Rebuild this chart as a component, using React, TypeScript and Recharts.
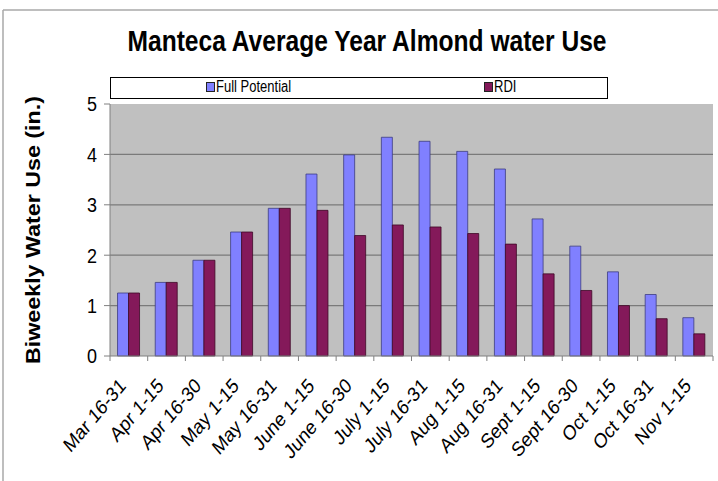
import React from 'react';
import { BarChart, Bar, XAxis, YAxis, CartesianGrid, Legend } from 'recharts';

const categories = [
  'Mar 16-31', 'Apr 1-15', 'Apr 16-30', 'May 1-15', 'May 16-31', 'June 1-15',
  'June 16-30', 'July 1-15', 'July 16-31', 'Aug 1-15', 'Aug 16-31', 'Sept 1-15',
  'Sept 16-30', 'Oct 1-15', 'Oct 16-31', 'Nov 1-15',
];
const fullPotential = [1.25, 1.46, 1.9, 2.46, 2.93, 3.61, 3.99, 4.34, 4.26, 4.06, 3.71, 2.72, 2.18, 1.67, 1.22, 0.76];
const rdi = [1.25, 1.46, 1.9, 2.46, 2.93, 2.89, 2.39, 2.6, 2.56, 2.43, 2.22, 1.63, 1.3, 1.0, 0.74, 0.44];
const yTicks = [0, 1, 2, 3, 4, 5];
const gridValues = [1, 2, 3, 4];

const TITLE = 'Manteca Average Year Almond water Use';
const Y_LABEL = 'Biweekly Water Use (in.)';
const FULL_NAME = 'Full Potential';
const RDI_NAME = 'RDI';

const data = categories.map((name, i) => ({
  name,
  full: fullPotential[i],
  rdi: rdi[i],
}));

const FONT = "Arial, 'Liberation Sans', Helvetica, sans-serif";
const FULL_FILL = '#8080ff';
const FULL_STROKE = '#3c3c80';
const RDI_FILL = '#84195a';
const RDI_STROKE = '#3e0826';
const AXIS_GRAY = '#808080';

function XTick(props: any) {
  const { x, y, payload, index, visibleTicksCount, width } = props;
  const half =
    payload && typeof payload.offset === 'number' && payload.offset > 0
      ? payload.offset
      : width / (2 * (visibleTicksCount || categories.length));
  const isLast = index === (visibleTicksCount || categories.length) - 1;
  return (
    <g>
      <line x1={x - half} y1={y} x2={x - half} y2={y + 5} stroke={AXIS_GRAY} strokeWidth={1} />
      {isLast && <line x1={x + half} y1={y} x2={x + half} y2={y + 5} stroke={AXIS_GRAY} strokeWidth={1} />}
      <g transform={`translate(${x - 2},${y + 31}) scale(1,1.18) rotate(-45)`}>
        <text x={0} y={0} textAnchor="end" fontSize={17.5} fontFamily={FONT} fill="#000">
          {payload.value}
        </text>
      </g>
    </g>
  );
}

function YTick(props: any) {
  const { x, y, payload } = props;
  return (
    <g transform={`translate(${x},${y}) scale(1,1.15)`}>
      <text x={0} y={0} textAnchor="end" dominantBaseline="central" fontSize={18} fontFamily={FONT} fill="#000">
        {payload.value}
      </text>
    </g>
  );
}

function YLabel(props: any) {
  const vb = props.viewBox || { x: 0, y: 104, width: 110, height: 252 };
  const cx = vb.x + 33;
  const cy = vb.y + vb.height / 2;
  return (
    <text
      x={cx}
      y={cy}
      transform={`rotate(-90 ${cx} ${cy})`}
      textAnchor="middle"
      dominantBaseline="central"
      fontSize={20}
      fontWeight="bold"
      fontFamily={FONT}
      fill="#000"
      textLength={268}
      lengthAdjust="spacingAndGlyphs"
    >
      {Y_LABEL}
    </text>
  );
}

function LegendBox(props: any) {
  const payload = props.payload || [];
  const lefts = [95, 373];
  return (
    <div
      style={{
        position: 'relative',
        width: 498,
        height: 22,
        border: '1.5px solid #000',
        boxSizing: 'border-box',
        background: '#fff',
      }}
    >
      {payload.map((p: any, i: number) => (
        <div
          key={p.value}
          style={{
            position: 'absolute',
            left: lefts[i] ?? 95 + i * 278,
            top: 2,
            display: 'flex',
            alignItems: 'center',
            fontFamily: FONT,
            fontSize: 13,
            color: '#000',
            lineHeight: '14px',
          }}
        >
          <span
            style={{
              display: 'inline-block',
              width: 7,
              height: 8,
              background: p.color,
              border: '1px solid #222',
              marginRight: 1,
            }}
          />
          <span style={{ display: 'inline-block', transform: 'scale(1,1.2)', transformOrigin: 'left center' }}>
            {p.value}
          </span>
        </div>
      ))}
    </div>
  );
}

export default function App() {
  return (
    <div style={{ position: 'absolute', left: 0, top: 0, width: 718, height: 481, background: '#fff' }}>
      <svg
        width={718}
        height={481}
        style={{ position: 'absolute', left: 0, top: 0, pointerEvents: 'none' }}
      >
        <line x1={3} y1={10} x2={718} y2={10} stroke="#a8a8a8" strokeWidth={1.5} />
        <line x1={3} y1={10} x2={3} y2={481} stroke="#a8a8a8" strokeWidth={1.5} />
        <g transform="translate(367,51) scale(1,1.2)">
          <text
            x={0}
            y={0}
            textAnchor="middle"
            fontSize={24}
            fontWeight="bold"
            fontFamily={FONT}
            fill="#000"
            textLength={479}
            lengthAdjust="spacingAndGlyphs"
          >
            {TITLE}
          </text>
        </g>
      </svg>
      <div style={{ position: 'absolute', left: 0, top: 0 }}>
        <BarChart
          width={718}
          height={481}
          data={data}
          margin={{ top: 104, right: 5, bottom: 25, left: 0 }}
          barCategoryGap="20%"
          barGap={0}
        >
          <CartesianGrid
            vertical={false}
            horizontalValues={gridValues}
            fill="#c0c0c0"
            stroke="#7a7a7a"
            strokeWidth={1.2}
          />
          <XAxis
            dataKey="name"
            type="category"
            interval={0}
            height={100}
            axisLine={{ stroke: AXIS_GRAY, strokeWidth: 1.2 }}
            tickLine={false}
            tickSize={0}
            tickMargin={0}
            tick={<XTick />}
          />
          <YAxis
            type="number"
            domain={[0, 5]}
            ticks={yTicks}
            width={110}
            tickSize={6}
            tickMargin={7}
            axisLine={{ stroke: AXIS_GRAY }}
            tickLine={{ stroke: AXIS_GRAY }}
            tick={<YTick />}
            label={(p: any) => <YLabel {...p} />}
          />
          <Legend
            verticalAlign="middle"
            align="center"
            layout="horizontal"
            wrapperStyle={{ position: 'absolute', left: 110, top: 77, width: 498, height: 22 }}
            content={(p: any) => <LegendBox {...p} />}
          />
          <Bar
            dataKey="full"
            name={FULL_NAME}
            fill={FULL_FILL}
            stroke={FULL_STROKE}
            strokeWidth={0.8}
            isAnimationActive={false}
          />
          <Bar
            dataKey="rdi"
            name={RDI_NAME}
            fill={RDI_FILL}
            stroke={RDI_STROKE}
            strokeWidth={0.8}
            isAnimationActive={false}
          />
        </BarChart>
      </div>
    </div>
  );
}
